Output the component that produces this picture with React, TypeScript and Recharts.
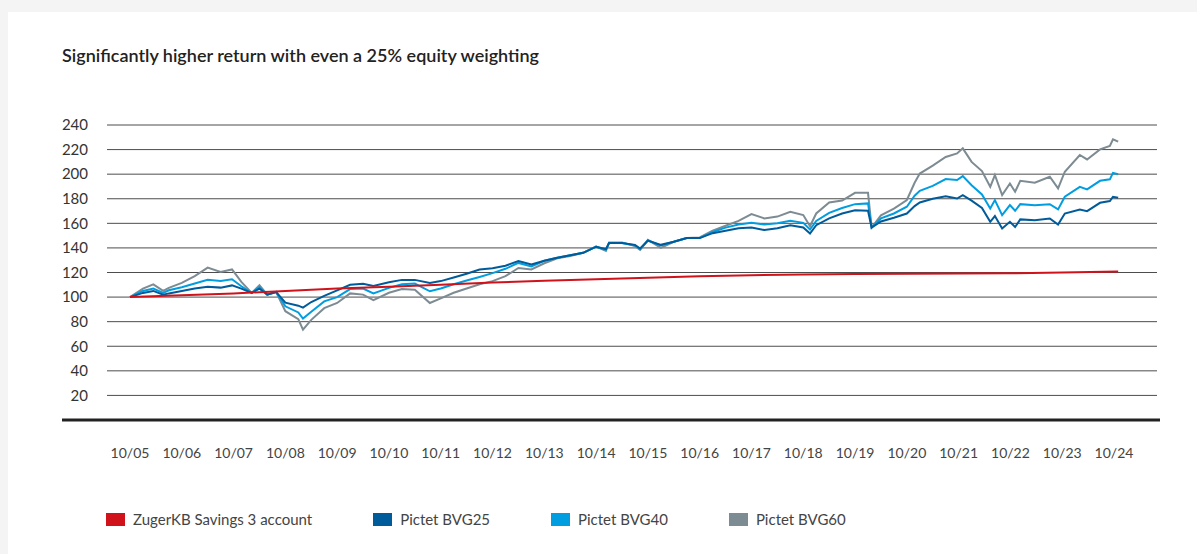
import { Legend, Line, LineChart, CartesianGrid, ReferenceLine, XAxis, YAxis } from "recharts";

// Index values (start 10/2005 = 100)
const fundDates = [
  2005.75, 2006.0, 2006.2, 2006.39, 2006.5, 2006.75, 2007.0, 2007.25, 2007.5, 2007.72,
  2007.9, 2008.1, 2008.25, 2008.4, 2008.57, 2008.75, 2009.0, 2009.09, 2009.25, 2009.5,
  2009.75, 2010.0, 2010.25, 2010.45, 2010.75, 2011.0, 2011.25, 2011.54, 2011.75, 2012.0,
  2012.25, 2012.5, 2012.75, 2013.0, 2013.25, 2013.5, 2013.75, 2014.0, 2014.25, 2014.5,
  2014.75, 2014.94, 2015.0, 2015.25, 2015.5, 2015.6, 2015.75, 2016.0, 2016.25, 2016.5,
  2016.75, 2017.0, 2017.25, 2017.5, 2017.75, 2018.0, 2018.25, 2018.5, 2018.75, 2018.88,
  2019.0, 2019.25, 2019.5, 2019.75, 2020.0, 2020.07, 2020.25, 2020.5, 2020.75, 2020.9,
  2021.0, 2021.25, 2021.5, 2021.72, 2021.83, 2022.0, 2022.2, 2022.36, 2022.45, 2022.59,
  2022.74, 2022.84, 2022.94, 2023.22, 2023.51, 2023.67, 2023.8, 2024.09, 2024.23, 2024.48,
  2024.67, 2024.73, 2024.83,
];

const bvg25 = [
  100, 103.4, 105, 102, 103, 105, 107, 108.5, 107.7, 109.5,
  106.9, 103.4, 106.9, 102, 104.2, 95.5, 93, 91.4, 96, 101,
  105.5, 110, 110.8, 109, 112, 114, 114, 111.5, 113, 116,
  119, 122.4, 123.5, 125.5, 129.4, 126.5, 129.5, 132, 134, 136,
  141, 139, 144, 144, 142.5, 139.5, 146, 142.5, 145, 148,
  148, 152, 154, 156, 156.6, 154.5, 156, 158.5, 156.6, 151.7,
  158.5, 164, 168, 170.7, 170.2, 156.6, 161.5, 164.5, 168, 174,
  177, 180, 182, 180.2, 183, 178.5, 172.5, 161.2, 165.9, 155.8,
  161.2, 157, 163.2, 162.6, 164, 159, 168, 171.3, 169.9, 176.7,
  178.1, 181.6, 180.8,
];

const bvg40 = [
  100, 105, 107, 103.4, 105.5, 108, 111, 114, 113, 114.5,
  108.8, 103.4, 108.2, 102, 104.2, 92.5, 87.5, 82.5, 88, 96.5,
  100, 106.5, 107, 103, 107.5, 110.5, 111, 104.7, 107, 110.5,
  113.5, 116.4, 119.5, 123, 127.8, 125, 129.5, 132, 134, 136,
  141, 138.5, 144, 144, 142, 139, 146, 142, 145, 148,
  148, 153, 156.5, 159, 160.4, 159, 160, 162, 160.4, 155,
  162, 168.5, 172.5, 175.6, 176.2, 156.6, 164, 168, 173.5, 182.5,
  186.5, 190.5, 196, 195.2, 198.4, 191, 183.5, 172.1, 178.9, 166.7,
  174.8, 170.2, 175.6, 174.8, 175.6, 171.3, 181.6, 189.7, 187.6, 194.6,
  195.8, 201.1, 200,
];

const bvg60 = [
  100, 106.9, 110.4, 105, 107.5, 111.5, 117, 124, 120.5, 122.5,
  112.3, 103.4, 109.6, 102, 104.2, 88.5, 82, 73.5, 81.5, 91,
  95.2, 103, 102, 97.5, 103.5, 106.5, 106, 95.2, 99, 103.5,
  107, 110.4, 113, 117, 123.7, 122.5, 127.5, 131.5, 133.5, 136,
  141, 137.5, 144.5, 144.5, 141.5, 138.5, 146.5, 140, 145, 148,
  148.5, 154, 158, 162, 167.5, 164, 165.5, 169.4, 166.7, 157.7,
  168, 177, 178.5, 184.8, 184.8, 156.6, 166.5, 172, 179, 193,
  200.5, 207, 214, 216.9, 221, 210, 202.5, 189.7, 199.3, 183,
  192.4, 185.7, 194.6, 193, 197.9, 188.4, 202, 215.6, 212, 220.2,
  222.9, 228.4, 226.4,
];

const savingsDates = [
  2005.75, 2006.75, 2007.75, 2008.75, 2009.75, 2010.75, 2011.75, 2012.75, 2013.75, 2014.75,
  2015.75, 2016.75, 2017.75, 2018.75, 2019.75, 2020.75, 2021.75, 2022.75, 2023.75, 2024.83,
];
const savingsValues = [
  100, 101.5, 103, 105, 107, 108.5, 110, 111.8, 113.2, 114.5,
  115.8, 117, 117.8, 118.3, 118.8, 119, 119.2, 119.4, 120, 120.8,
];

const xTickLabels = [
  "10/05", "10/06", "10/07", "10/08", "10/09", "10/10", "10/11", "10/12", "10/13", "10/14",
  "10/15", "10/16", "10/17", "10/18", "10/19", "10/20", "10/21", "10/22", "10/23", "10/24",
];
const yTicks = [20, 40, 60, 80, 100, 120, 140, 160, 180, 200, 220, 240];

const series = [
  { key: "savings", name: "ZugerKB Savings 3 account", color: "#d0121b" },
  { key: "bvg25", name: "Pictet BVG25", color: "#005b9a" },
  { key: "bvg40", name: "Pictet BVG40", color: "#009ee0" },
  { key: "bvg60", name: "Pictet BVG60", color: "#7d8b93" },
];

const fundData = fundDates.map((t, i) => ({
  t,
  bvg25: bvg25[i],
  bvg40: bvg40[i],
  bvg60: bvg60[i],
}));
const savingsData = savingsDates.map((t, i) => ({ t, savings: savingsValues[i] }));

const xTicks = xTickLabels.map((_, i) => 2005.75 + i);
const labelFor = (t: number) => xTickLabels[Math.round(t - 2005.75)] ?? "";

const FONT = "Lato, 'Noto Sans', sans-serif";

function LegendContent() {
  return (
    <div style={{ display: "flex", fontFamily: FONT, fontSize: 15, color: "#444" }}>
      {series.map((s) => (
        <div key={s.key} style={{ display: "flex", alignItems: "center", marginRight: 61 }}>
          <span style={{ width: 19, height: 13, background: s.color, marginRight: 8 }} />
          <span>{s.name}</span>
        </div>
      ))}
    </div>
  );
}

function Baseline(props: any) {
  const { x1, x2, y1 } = props;
  return <line x1={x1 - 45} x2={x2 + 3} y1={y1} y2={y1} stroke="#222" strokeWidth={3} />;
}

export default function App() {
  return (
    <div style={{ position: "relative", width: 1197, height: 554 }}>
      <style>{`body{margin:0;background:#f4f4f4}`}</style>
      <div style={{ position: "absolute", left: 8, top: 12, width: 1189, height: 542, background: "#fff" }}>
        <div
          style={{
            position: "absolute",
            left: 54,
            top: 32,
            fontFamily: FONT,
            fontSize: 18,
            fontWeight: 600,
            color: "#222",
          }}
        >
          Significantly higher return with even a 25% equity weighting
        </div>
        <LineChart
          width={1189}
          height={542}
          data={fundData}
          margin={{ top: 113, right: 40, bottom: 94, left: 0 }}
        >
          <CartesianGrid horizontal vertical={false} stroke="#4d4d4d" strokeWidth={1} />
          <XAxis
            dataKey="t"
            type="number"
            domain={[2005.306, 2025.58]}
            allowDataOverflow
            ticks={xTicks}
            tickFormatter={labelFor}
            axisLine={false}
            tickLine={false}
            tickSize={0}
            tickMargin={28}
            height={40}
            tick={{ fill: "#444", fontSize: 14, fontFamily: FONT }}
          />
          <YAxis
            type="number"
            domain={[0, 240]}
            ticks={yTicks}
            axisLine={false}
            tickLine={false}
            tickSize={0}
            tickMargin={19}
            width={99}
            tick={{ fill: "#333", fontSize: 15, fontFamily: FONT }}
          />
          <ReferenceLine y={0} shape={Baseline} />
          <Line dataKey="bvg60" stroke="#7d8b93" strokeWidth={2} dot={false} isAnimationActive={false} />
          <Line dataKey="bvg40" stroke="#009ee0" strokeWidth={2} dot={false} isAnimationActive={false} />
          <Line dataKey="bvg25" stroke="#005b9a" strokeWidth={2} dot={false} isAnimationActive={false} />
          <Line
            data={savingsData}
            dataKey="savings"
            stroke="#d0121b"
            strokeWidth={2}
            dot={false}
            isAnimationActive={false}
          />
          <Legend
            layout="horizontal"
            verticalAlign="middle"
            align="center"
            content={() => <LegendContent />}
            wrapperStyle={{ left: 98, top: 498, width: "auto", height: "auto" }}
          />
        </LineChart>
      </div>
    </div>
  );
}
